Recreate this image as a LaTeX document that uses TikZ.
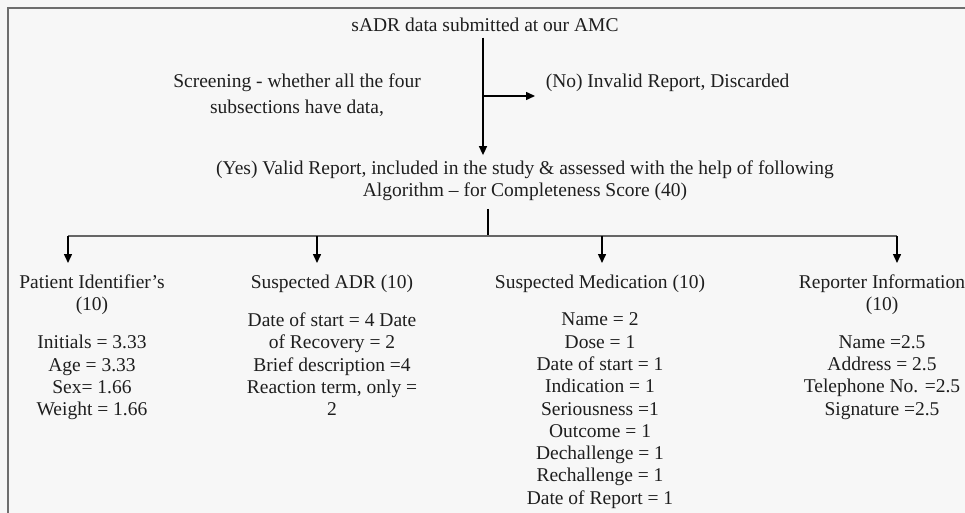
\documentclass[tikz,border=0pt]{standalone}
\usepackage{fontspec}
\setmainfont{Liberation Serif}
\usetikzlibrary{positioning, arrows.meta}
\definecolor{pagegray}{HTML}{F7F7F7}
\definecolor{framegray}{HTML}{6E6E6E}
\definecolor{inkgray}{HTML}{1E1E1E}

\begin{document}
\begin{tikzpicture}[
    x=1pt, y=-1pt,
    every node/.style={align=center, inner sep=0pt, text=inkgray,
        font=\fontsize{19.5}{22.3}\selectfont},
    heading/.style={anchor=north},
    >={Triangle[length=9pt,width=8pt]},
    line width=1.5pt
]
    \def\barY{236}
    \def\tipY{263}
    \def\headY{274}

    \fill[pagegray] (0,0) rectangle (965,513);
    \useasboundingbox (0,0) rectangle (965,513);
    \draw[framegray, line width=2pt] (8,513) -- (8,8) -- (965,8);

    \node (source) at (485,25) {sADR data submitted at our AMC};
    \node (screen) at (297,95) {Screening - whether all the four\\[3.7pt]subsections have data,};
    \node[anchor=west] (invalid) at (545,83) {(No) Invalid Report, Discarded};
    \node (valid) at (525,181) {(Yes) Valid Report, included in the study \& assessed with the help of following\\Algorithm -- for Completeness Score (40)};

    \coordinate (fork) at (483,96);
    \coordinate (split) at (488,\barY);

    \draw[->, shorten <=5pt, shorten >=5pt] (source.south -| fork) -- (fork |- valid.north);
    \draw[->, shorten >=10pt] (fork) -- (invalid.west |- fork);
    \draw[shorten <=7pt] (valid.south -| split) -- (split);

    \node[heading] (patient) at (92,\headY) {Patient Identifier's\\(10)};
    \node[heading] (adr) at (332,\headY) {Suspected ADR (10)};
    \node[heading] (medication) at (600,\headY) {Suspected Medication (10)};
    \node[heading] (reporter) at (882,\headY) {Reporter Information\\(10)};

    \node[below=19pt of patient] (patientlist) {Initials = 3.33\\Age = 3.33\\Sex= 1.66\\Weight = 1.66};
    \node[below=19pt of adr] (adrlist) {Date of start = 4 Date\\of Recovery = 2\\Brief description =4\\Reaction term, only =\\2};
    \node[below=19pt of medication] (medicationlist) {Name = 2\\Dose = 1\\Date of start = 1\\Indication = 1\\Seriousness =1\\Outcome = 1\\Dechallenge = 1\\Rechallenge = 1\\Date of Report = 1};
    \node[below=19pt of reporter] (reporterlist) {Name =2.5\\Address = 2.5\\Telephone No. =2.5\\Signature =2.5};

    % arrow tips sit a little off the heading centres, as in the scan
    \coordinate (patienttip) at (68,\tipY);
    \coordinate (adrtip) at (317,\tipY);
    \coordinate (medicationtip) at (602,\tipY);
    \coordinate (reportertip) at (897,\tipY);

    \draw[line width=2pt, black!60] (patienttip |- split) -- (reportertip |- split);
    \foreach \col in {patient, adr, medication, reporter}
        \draw[->] (\col tip |- split) -- (\col tip);
\end{tikzpicture}
\end{document}
